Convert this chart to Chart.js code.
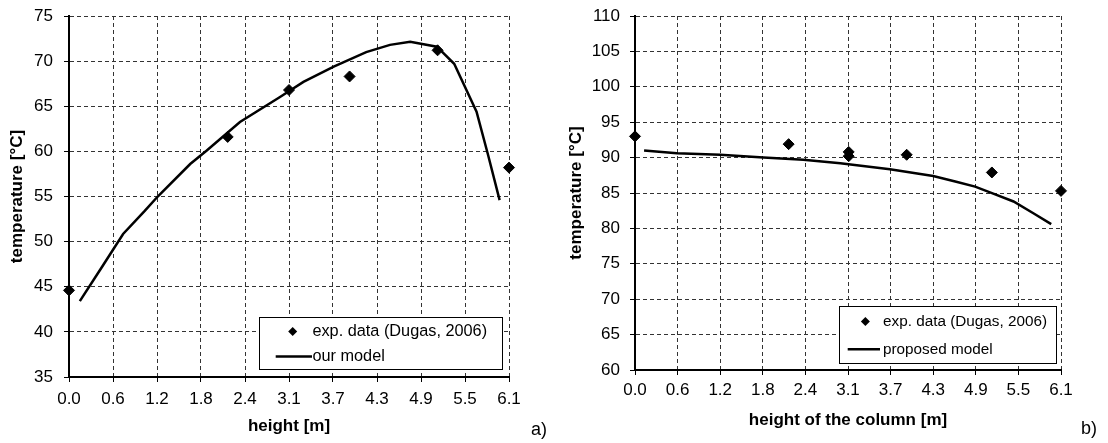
<!DOCTYPE html>
<html>
<head>
<meta charset="utf-8">
<script src="https://cdn.jsdelivr.net/npm/chart.js@4.4.0/dist/chart.umd.min.js"></script>
<style>
    body { margin: 0; background: #fff; }
    #wrap { position: relative; width: 1108px; height: 443px; font-family: "Liberation Sans", Arial, sans-serif; }
    #wrap canvas { position: absolute; top: 0; }
    #chartA { left: 0; }
    #chartB { left: 554px; }
    .tag { position: absolute; font-size: 18px; line-height: 1; color: #000; }
</style>
</head>
<body>
<div id="wrap">
    <canvas id="chartA" width="554" height="443"></canvas>
    <canvas id="chartB" width="554" height="443"></canvas>
    <div class="tag" style="left:531px;top:420px">a)</div>
    <div class="tag" style="left:1081px;top:419px">b)</div>
</div>
<script>
// x tick labels (same for both plots)
var xTickLabels = ['0.0', '0.6', '1.2', '1.8', '2.4', '3.1', '3.7', '4.3', '4.9', '5.5', '6.1'];

// a) experimental points and model
var expHeightA = [0.0, 2.2, 3.05, 3.89, 5.11, 6.1];
var expTempA = [44.6, 61.6, 66.8, 68.3, 71.2, 58.2];
var modelHeightA = [0.15, 0.45, 0.75, 1.05, 1.23, 1.68, 1.91, 2.37, 2.92, 3.25, 3.67, 4.12, 4.45, 4.73, 5.1, 5.34, 5.65, 5.81, 5.97];
var modelTempA = [43.4, 47.1, 50.85, 53.4, 55.0, 58.6, 60.1, 63.25, 66.0, 67.7, 69.4, 71.0, 71.8, 72.15, 71.6, 69.7, 64.4, 59.6, 54.6];

// b) experimental points and model
var expHeightB = [0.0, 2.2, 3.06, 3.06, 3.89, 5.11, 6.1];
var expTempB = [93.0, 91.9, 90.8, 90.2, 90.4, 87.9, 85.3];
var modelHeightB = [0.13, 0.6, 1.22, 1.84, 2.41, 2.94, 3.65, 4.27, 4.6, 4.87, 5.13, 5.42, 5.71, 5.96];
var modelTempB = [91.0, 90.6, 90.4, 90.0, 89.7, 89.2, 88.35, 87.4, 86.6, 85.9, 84.9, 83.8, 82.1, 80.6];

Chart.defaults.font.family = '"Liberation Sans", Arial, sans-serif';
Chart.defaults.color = '#000';

function toPoints(xs, ys) {
    var pts = [];
    for (var i = 0; i < xs.length; i++) {
        pts.push({ x: xs[i], y: ys[i] });
    }
    return pts;
}

// framed legend inside the plot, bottom right
var boxLegend = {
    id: 'boxLegend',
    afterDraw: function (chart, args, o) {
        var ctx = chart.ctx;
        var a = chart.chartArea;
        var x = a.right - o.right - o.width;
        var y = a.bottom - o.bottom - o.height;
        ctx.save();
        ctx.fillStyle = '#fff';
        ctx.fillRect(x, y, o.width, o.height);
        ctx.strokeStyle = '#000';
        ctx.lineWidth = 1;
        ctx.strokeRect(Math.round(x) + 0.5, Math.round(y) + 0.5, Math.round(o.width), Math.round(o.height));

        // diamond row
        ctx.fillStyle = '#000';
        ctx.beginPath();
        ctx.moveTo(x + o.markX - 4.5, y + o.row1);
        ctx.lineTo(x + o.markX, y + o.row1 - 4.5);
        ctx.lineTo(x + o.markX + 4.5, y + o.row1);
        ctx.lineTo(x + o.markX, y + o.row1 + 4.5);
        ctx.closePath();
        ctx.fill();

        // line row
        ctx.lineWidth = 2.5;
        ctx.beginPath();
        ctx.moveTo(x + o.lineX1, y + o.row2);
        ctx.lineTo(x + o.lineX2, y + o.row2);
        ctx.stroke();

        ctx.font = o.fontSize + 'px "Liberation Sans", Arial, sans-serif';
        ctx.textBaseline = 'middle';
        ctx.textAlign = 'left';
        ctx.fillText(o.text1, x + o.textX, y + o.row1);
        ctx.fillText(o.text2, x + o.textX, y + o.row2);
        ctx.restore();
    }
};

function makeChart(id, s) {
    var ctx = document.getElementById(id).getContext('2d');
    return new Chart(ctx, {
        type: 'scatter',
        data: {
            datasets: [
                {
                    label: s.text1,
                    data: toPoints(s.expX, s.expY),
                    pointStyle: 'rectRot',
                    pointRadius: 5.5,
                    pointBackgroundColor: '#000',
                    pointBorderColor: '#000',
                    pointBorderWidth: 1,
                    showLine: false,
                    clip: false
                },
                {
                    label: s.text2,
                    data: toPoints(s.modelX, s.modelY),
                    showLine: true,
                    borderColor: '#000',
                    borderWidth: 2.5,
                    pointRadius: 0,
                    tension: 0,
                    fill: false
                }
            ]
        },
        options: {
            responsive: false,
            animation: false,
            layout: { padding: { top: 16, right: s.padRight, left: 0, bottom: 0 } },
            plugins: {
                legend: { display: false },
                tooltip: { enabled: false },
                boxLegend: s.legend
            },
            scales: {
                x: {
                    type: 'linear',
                    min: 0,
                    max: 6.1,
                    afterBuildTicks: function (scale) {
                        var n = xTickLabels.length - 1;
                        scale.ticks = xTickLabels.map(function (t, i) {
                            return { value: i * 6.1 / n };
                        });
                    },
                    afterFit: function (scale) { scale.height = s.xAxisH; },
                    ticks: {
                        autoSkip: false,
                        maxRotation: 0,
                        padding: s.xTickPad,
                        color: '#000',
                        font: { size: 17 },
                        callback: function (v, i) { return xTickLabels[i]; }
                    },
                    grid: { color: '#333', lineWidth: 1, tickLength: 5, tickColor: '#000', tickWidth: 1, tickBorderDash: [] },
                    border: { color: '#000', width: 2, dash: [4, 3] },
                    title: {
                        display: true,
                        text: s.xTitle,
                        color: '#000',
                        font: { size: 17, weight: 'bold' },
                        padding: { top: 0, bottom: s.xTitlePad }
                    }
                },
                y: {
                    min: s.yMin,
                    max: s.yMax,
                    afterFit: function (scale) {
                        scale.width = s.yAxisW;
                        // keep the plot top where the layout padding puts it
                        scale.paddingTop = 0;
                        scale.paddingBottom = 0;
                    },
                    ticks: { stepSize: 5, padding: s.yTickPad, color: '#000', font: { size: 17 } },
                    grid: { color: '#333', lineWidth: 1, tickLength: 5, tickColor: '#000', tickWidth: 1, tickBorderDash: [] },
                    border: { color: '#000', width: 2, dash: [4, 3] },
                    title: {
                        display: true,
                        text: 'temperature [°C]',
                        color: '#000',
                        font: { size: 17, weight: 'bold' },
                        padding: { top: s.yTitlePad, bottom: 0 }
                    }
                }
            }
        },
        plugins: [boxLegend]
    });
}

makeChart('chartA', {
    expX: expHeightA, expY: expTempA, modelX: modelHeightA, modelY: modelTempA,
    text1: 'exp. data (Dugas, 2006)', text2: 'our model',
    yMin: 35, yMax: 75, padRight: 45, yAxisW: 69, xAxisH: 66,
    xTickPad: 7, yTickPad: 11, xTitlePad: 6, yTitlePad: 7,
    xTitle: 'height [m]',
    legend: {
        width: 243, height: 52, right: 7, bottom: 8,
        row1: 14.5, row2: 39.5, markX: 33.7, lineX1: 16.7, lineX2: 53, textX: 53.4,
        fontSize: 16.3, text1: 'exp. data (Dugas, 2006)', text2: 'our model'
    }
});

makeChart('chartB', {
    expX: expHeightB, expY: expTempB, modelX: modelHeightB, modelY: modelTempB,
    text1: 'exp. data (Dugas, 2006)', text2: 'proposed model',
    yMin: 60, yMax: 110, padRight: 47, yAxisW: 81, xAxisH: 73,
    xTickPad: 5, yTickPad: 10, xTitlePad: 12, yTitlePad: 12,
    xTitle: 'height of the column [m]',
    legend: {
        width: 217, height: 57, right: 5, bottom: 7,
        row1: 15.6, row2: 43.3, markX: 26.4, lineX1: 8.7, lineX2: 41, textX: 44,
        fontSize: 15.3, text1: 'exp. data (Dugas, 2006)', text2: 'proposed model'
    }
});
</script>
</body>
</html>
